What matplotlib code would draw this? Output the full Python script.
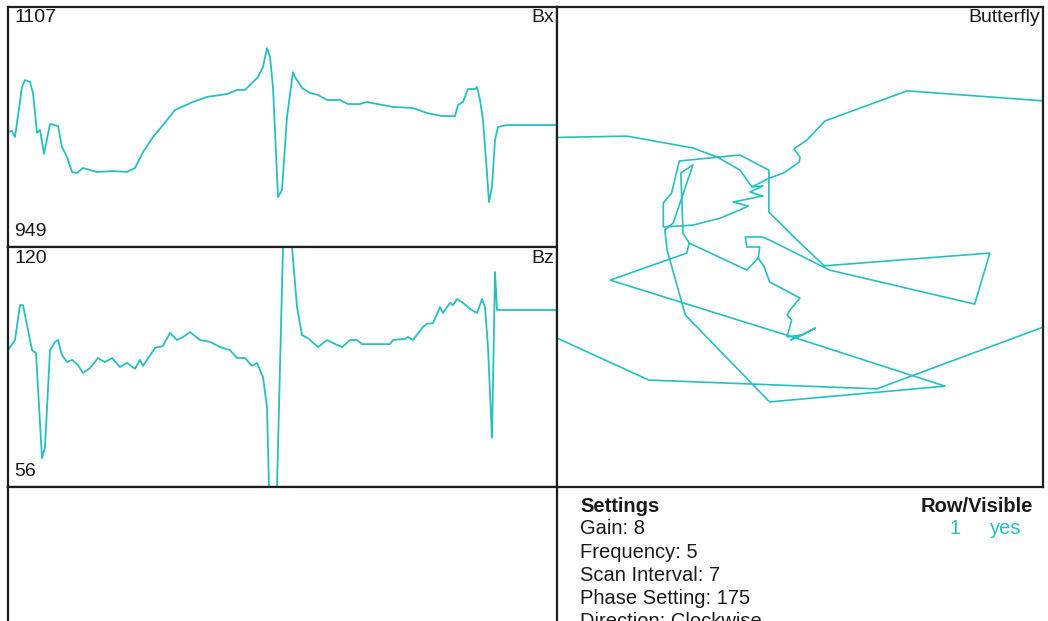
import matplotlib.pyplot as plt

plt.rcParams['font.family'] = ['Liberation Sans', 'DejaVu Sans']

TRACE = '#26c0c0'
FRAME = '#1e1e1e'
W, H = 1048, 621

# Bx trace (scan sample vs field)
bx_pos = [0, 4, 7, 14, 17, 22, 25, 29, 32, 36, 42, 50, 54, 59, 64, 69, 75, 89, 105, 119,
          127, 135, 145, 155, 167, 185, 199, 219, 229, 237, 250, 255, 259, 262, 265, 270, 274, 279, 285, 287,
          294, 302, 310, 319, 332, 340, 352, 359, 364, 385, 405, 419, 434, 447, 450, 455, 460, 467, 469, 472,
          475, 479, 481, 484, 487, 490, 499, 549]
bx_val = [1024.7, 1025.4, 1021.4, 1054.3, 1058.9, 1057.6, 1050.4, 1024.1, 1026.0, 1010.2,
          1030.0, 1028.7, 1014.8, 1008.3, 998.4, 997.7, 1001.0, 998.4, 999.0, 998.4,
          1001.0, 1011.5, 1021.4, 1029.3, 1039.2, 1044.5, 1047.8, 1049.7, 1052.4, 1052.4,
          1060.9, 1067.5, 1080.0, 1074.1, 1054.3, 981.9, 986.5, 1034.6, 1064.2, 1060.9,
          1053.7, 1050.4, 1049.1, 1045.8, 1045.8, 1043.1, 1043.1, 1044.5, 1043.8, 1041.2,
          1040.5, 1037.2, 1035.2, 1035.2, 1042.5, 1044.5, 1053.0, 1053.0, 1054.3, 1045.8,
          1032.6, 997.7, 978.6, 988.5, 1019.4, 1028.0, 1029.3, 1029.3]
bx_range = (949, 1107)

# Bz trace
bz_pos = [0, 7, 12, 15, 20, 24, 28, 34, 37, 42, 47, 50, 54, 59, 64, 70, 75, 82, 90, 97,
          104, 112, 119, 127, 132, 135, 147, 155, 162, 169, 175, 182, 192, 202, 212, 222, 229, 237, 244, 249,
          255, 259, 261, 263, 266, 269, 275, 278, 281, 284, 289, 294, 300, 310, 319, 325, 334, 342, 349, 354,
          382, 385, 397, 400, 405, 415, 419, 425, 432, 435, 442, 445, 449, 454, 462, 469, 474, 477, 480, 484,
          487, 489, 492, 549]
bz_val = [92.5, 95.2, 104.5, 104.5, 97.9, 92.5, 91.7, 63.7, 66.7, 92.5,
          94.7, 95.2, 91.2, 89.3, 89.9, 88.5, 86.4, 87.7, 90.4, 89.3,
          90.4, 88.0, 89.1, 87.5, 89.9, 88.3, 93.1, 93.6, 97.1, 95.2,
          96.0, 97.3, 95.2, 94.7, 93.3, 92.5, 90.4, 90.4, 88.3, 89.1,
          85.3, 77.3, 56.0, 42.0, 40.0, 56.0, 120.0, 134.0, 130.0, 120.0,
          104.0, 96.5, 95.7, 93.3, 95.2, 94.4, 93.3, 95.2, 95.2, 94.1,
          94.1, 95.2, 95.5, 96.0, 95.2, 98.7, 99.5, 99.7, 104.0, 102.4,
          105.1, 104.5, 106.1, 105.3, 103.5, 102.4, 106.1, 104.0, 93.3, 69.1,
          113.3, 103.2, 103.2, 103.2]
bz_range = (56, 120)

# butterfly (Bz on x, Bx on y), drawn as three runs
bf1_bz = [130.1, 110.8, 102.1, 98.9, 95.9, 94.8, 94.3, 92.9, 94.6, 92.9, 96.8, 94.8, 95.9, 98.5, 102.1,
          106.0, 106.0, 104.9, 103.9, 95.9, 92.1, 92.1, 88.4, 84.8, 63.0, 65.0, 84.1, 92.0, 93.0, 95.2,
          95.0, 93.3, 93.5, 92.7, 92.0, 88.0, 89.3, 89.7, 89.1, 89.7, 88.0, 89.2, 87.2, 86.0, 88.5,
          68.9, 92.0, 103.1, 105.5, 105.8, 104.7, 102.1, 103.7, 103.4, 102.6, 95.0, 93.5]
bf1_bx = [1063.6, 1064.5, 1060.6, 1057.6, 1053.3, 1049.4, 1047.8, 1048.1, 1046.1, 1044.8, 1042.8, 1041.5, 1040.2, 1037.5, 1035.2,
          1034.6, 1042.5, 1045.8, 1056.3, 1058.3, 1053.3, 1039.5, 1030.3, 1021.8, 1026.0, 1009.2, 1020.4, 1030.3, 1031.3, 1031.3,
          1028.0, 1028.0, 1024.4, 1021.4, 1016.5, 1011.2, 1007.3, 1005.6, 1004.0, 998.4, 999.0, 997.4, 999.7, 1001.3, 998.0,
          982.2, 977.0, 1005.6, 1027.0, 1033.6, 1035.9, 1055.0, 1052.4, 1032.6, 1029.3, 1020.4, 1024.4]
bf2_bz = [94.3, 92.0, 90.1, 88.1, 88.0, 88.8, 87.1, 84.7, 73.9, 56.0, 48.5,
          48.5, 55.9, 77.9, 107.9, 120.0, 130.1]
bf2_bx = [1047.8, 1050.7, 1052.4, 1056.0, 1057.6, 1060.3, 1063.2, 1069.5, 1079.4, 1076.1, 1075.5,
          1004.5, 1001.7, 981.3, 984.2, 998.0, 1006.6]
bf3_bz = [102.6, 102.9, 113.0, 88.5]
bf3_bx = [1029.3, 1026.0, 1017.1, 998.0]

settings_lines = ['Gain: 8', 'Frequency: 5', 'Scan Interval: 7', 'Phase Setting: 175', 'Direction: Clockwise']
row_number = '1'
row_visible = 'yes'


def box(x0, y0, x1, y1):
    return [x0 / W, 1 - y1 / H, (x1 - x0) / W, (y1 - y0) / H]


def frame(ax):
    ax.set_xticks([])
    ax.set_yticks([])
    for s in ax.spines.values():
        s.set_color(FRAME)
        s.set_linewidth(1.6)


def ptext(x, y, s, **kw):
    kw.setdefault('fontsize', 14)
    kw.setdefault('color', '#1a1a1a')
    kw.setdefault('va', 'center')
    fig.text(x / W, 1 - y / H, s, **kw)


fig = plt.figure(figsize=(W / 100, H / 100), dpi=100)

ax_bx = fig.add_axes(box(8, 7, 557, 247))
ax_bx.plot(bx_pos, bx_val, color=TRACE, lw=1.3)
ax_bx.set_xlim(0, 549)
ax_bx.set_ylim(*bx_range)
frame(ax_bx)

ax_bz = fig.add_axes(box(8, 247, 557, 487))
ax_bz.plot(bz_pos, bz_val, color=TRACE, lw=1.3)
ax_bz.set_xlim(0, 549)
ax_bz.set_ylim(*bz_range)
frame(ax_bz)

ax_bf = fig.add_axes(box(557, 7, 1043, 487))
for xs, ys in [(bf1_bz, bf1_bx), (bf2_bz, bf2_bx), (bf3_bz, bf3_bx)]:
    ax_bf.plot(xs, ys, color=TRACE, lw=1.2)
ax_bf.set_xlim(bz_range[1], bz_range[0])
ax_bf.set_ylim(*bx_range)
frame(ax_bf)

# empty panel below the traces, runs off the page
ax_empty = fig.add_axes(box(8, 487, 557, 727))
frame(ax_empty)

ptext(14, 18, str(bx_range[1]))
ptext(14, 231, str(bx_range[0]))
ptext(554, 18, 'Bx', ha='right')
ptext(14, 258, str(bz_range[1]))
ptext(14, 471, str(bz_range[0]))
ptext(554, 258, 'Bz', ha='right')
ptext(1040, 18, 'Butterfly', ha='right')

# settings block; the last line runs past the bottom of the page
ptext(580, 506, 'Settings', fontweight='bold', fontsize=14.5)
for i, line in enumerate(settings_lines):
    ptext(580, 529 + i * 23.2, line, fontsize=14.5)
ptext(1033, 506, 'Row/Visible', ha='right', fontweight='bold', fontsize=14.5)
ptext(955, 529, row_number, ha='center', color=TRACE, fontsize=14.5)
ptext(1006, 529, row_visible, ha='center', color=TRACE, fontsize=14.5)

fig.savefig('out.png', dpi=100)
